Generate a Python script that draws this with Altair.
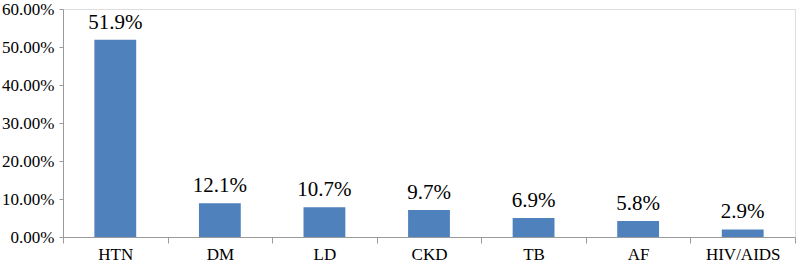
import altair as alt
import pandas as pd

categories = ["HTN", "DM", "LD", "CKD", "TB", "AF", "HIV/AIDS"]
bar_values = [0.519, 0.089, 0.078, 0.071, 0.050, 0.042, 0.020]
label_texts = ["51.9%", "12.1%", "10.7%", "9.7%", "6.9%", "5.8%", "2.9%"]
y_ticks = [0.0, 0.1, 0.2, 0.3, 0.4, 0.5, 0.6]

df = pd.DataFrame({"cat": categories, "val": bar_values, "lab": label_texts})

FONT = "Liberation Serif"
AXIS_COLOR = "#9a9a9a"

x_enc = alt.X(
    "cat:N",
    sort=categories,
    scale=alt.Scale(paddingInner=0, paddingOuter=0),
    axis=alt.Axis(
        title=None,
        labelAngle=0,
        labelFont=FONT,
        labelFontSize=17,
        labelColor="black",
        labelPadding=3,
        tickBand="extent",
        tickSize=6,
        tickColor=AXIS_COLOR,
        domainColor=AXIS_COLOR,
        grid=False,
    ),
)
y_enc = alt.Y(
    "val:Q",
    scale=alt.Scale(domain=[0, 0.6], nice=False),
    axis=alt.Axis(
        title=None,
        values=y_ticks,
        format=".2%",
        labelFont=FONT,
        labelFontSize=17,
        labelColor="black",
        labelPadding=5,
        tickSize=4,
        tickColor=AXIS_COLOR,
        domainColor=AXIS_COLOR,
        grid=False,
    ),
)

base = alt.Chart(df).encode(x=x_enc, y=y_enc)

bars = base.mark_bar(color="#4F81BD", width=alt.RelativeBandSize(0.4))
labels = base.mark_text(
    font=FONT, fontSize=21, color="black", baseline="alphabetic", dy=-11
).encode(text="lab:N")

chart = (
    (bars + labels)
    .properties(
        width=732,
        height=228,
        autosize=alt.AutoSizeParams(type="none"),
        padding={"left": 63, "top": 9, "right": 3, "bottom": 29},
    )
    .configure_view(stroke=None)
    .configure(background="white")
)

chart.save("out.html", embed_options={"renderer": "svg", "actions": False})
